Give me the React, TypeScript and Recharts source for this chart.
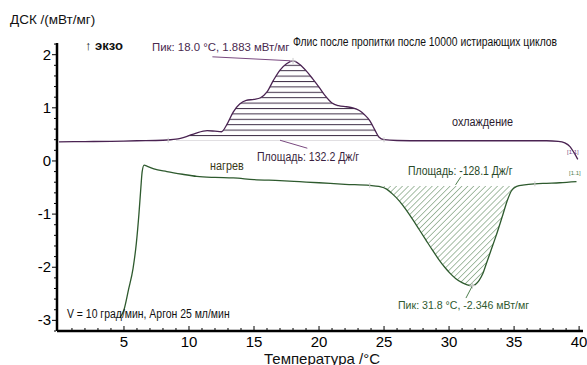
import { ComposedChart, Line, Area, XAxis, YAxis, ReferenceLine, ReferenceDot } from "recharts"

// охлаждение (экзо вверх): температура, °C / ДСК, мВт/мг
const coolT = [0, 2, 4, 6, 8, 9, 9.8, 10.5, 11.4, 12.0, 12.5, 12.9, 13.4, 13.9, 14.4, 15.0, 15.5, 16.0, 16.5, 17.0, 17.5, 18.0, 18.5, 19.0, 19.5, 20.0, 20.5, 21.0, 21.5, 22.1, 22.6, 23.1, 23.5, 23.9, 24.3, 24.6, 25.0, 26, 28, 30, 33, 36, 37.5, 38.4, 38.9, 39.3, 39.6, 39.9]
const coolV = [0.36, 0.365, 0.37, 0.38, 0.39, 0.41, 0.46, 0.52, 0.57, 0.56, 0.55, 0.68, 0.92, 1.07, 1.14, 1.16, 1.19, 1.3, 1.52, 1.71, 1.83, 1.883, 1.82, 1.7, 1.55, 1.39, 1.22, 1.09, 1.04, 1.02, 1.0, 0.95, 0.87, 0.76, 0.58, 0.45, 0.4, 0.385, 0.38, 0.38, 0.38, 0.38, 0.38, 0.37, 0.34, 0.27, 0.16, 0.03]

// нагрев
const heatT = [4.7, 5.0, 5.35, 5.7, 5.95, 6.15, 6.3, 6.4, 6.55, 6.8, 7.3, 8.3, 9.5, 10.6, 12, 13.4, 15, 17, 18.5, 20, 22, 23.9, 24.6, 25.2, 25.6, 26.2, 26.7, 27.2, 27.7, 28.2, 28.7, 29.2, 29.7, 30.1, 30.5, 31.0, 31.4, 31.8, 32.3, 32.6, 32.8, 33.2, 33.6, 34.1, 34.5, 34.8, 35.2, 35.8, 36.6, 37.5, 38.5, 39.8]
const heatV = [-2.95, -2.8, -2.42, -2.02, -1.55, -1.0, -0.5, -0.2, -0.08, -0.1, -0.15, -0.2, -0.25, -0.29, -0.31, -0.32, -0.35, -0.37, -0.39, -0.41, -0.44, -0.46, -0.48, -0.53, -0.61, -0.76, -0.92, -1.1, -1.29, -1.48, -1.67, -1.85, -2.01, -2.12, -2.21, -2.29, -2.33, -2.346, -2.25, -2.12, -1.98, -1.7, -1.42, -1.04, -0.73, -0.56, -0.48, -0.45, -0.43, -0.42, -0.41, -0.39]

// пределы интегрирования и базовые линии пиков
const coolLimits = [8.4, 25.0]
const coolBase = 0.39
const heatLimits = [24.6, 35.8]
const heatBase = -0.47

const coolPeak = { t: 18.0, v: 1.883, area: "132.2" }
const heatPeak = { t: 31.8, v: -2.346, area: "-128.1" }

const xTicks = [1, 2, 3, 4, 5, 6, 7, 8, 9, 10, 11, 12, 13, 14, 15, 16, 17, 18, 19, 20, 21, 22, 23, 24, 25, 26, 27, 28, 29, 30, 31, 32, 33, 34, 35, 36, 37, 38, 39, 40]
const yTicks = [-3.2, -3, -2.8, -2.6, -2.4, -2.2, -2, -1.8, -1.6, -1.4, -1.2, -1, -0.8, -0.6, -0.4, -0.2, 0, 0.2, 0.4, 0.6, 0.8, 1, 1.2, 1.4, 1.6, 1.8, 2, 2.2]

const cool = coolT.map((t, i) => ({ t, v: coolV[i] }))
const heat = heatT.map((t, i) => ({ t, v: heatV[i] }))
const coolFill = cool.filter((p) => p.t >= coolLimits[0] && p.t <= coolLimits[1])
const heatFill = heat.filter((p) => p.t >= heatLimits[0] && p.t <= heatLimits[1])

const PURPLE = "#4a2352"
const GREEN = "#2e5a2e"
const SANS = "'Liberation Sans', Arial, sans-serif"

const XTick = ({ x, y, payload }: any) => {
  const major = payload.value % 5 === 0
  return (
    <g>
      <line x1={x} x2={x} y1={y - 1} y2={y - (major ? 5 : 3)} stroke="#000" strokeWidth={1} />
      {major && (
        <text x={x} y={y + 16} textAnchor="middle" fontSize={15} fontFamily={SANS} fill="#000">
          {payload.value}
        </text>
      )}
    </g>
  )
}

const YTick = ({ x, y, payload }: any) => {
  const major = Math.abs(payload.value - Math.round(payload.value)) < 1e-6
  return (
    <g>
      <line x1={x - 1} x2={x - (major ? 5 : 3)} y1={y} y2={y} stroke="#000" strokeWidth={1} />
      {major && (
        <text x={x - 6} y={y + 5} textAnchor="end" fontSize={15} fontFamily={SANS} fill="#000">
          {payload.value}
        </text>
      )}
    </g>
  )
}

const Cross = ({ cx, cy, stroke }: any) => (
  <g stroke={stroke} strokeWidth={1}>
    <line x1={cx - 3} x2={cx + 3} y1={cy} y2={cy} />
    <line x1={cx} x2={cx} y1={cy - 3} y2={cy + 3} />
  </g>
)

const Notch = ({ cx, cy, stroke }: any) => (
  <line x1={cx} x2={cx} y1={cy - 2.5} y2={cy + 2.5} stroke={stroke} strokeWidth={1} />
)

// подписи: узкий шрифт имитируется сжатием по горизонтали
const Note = ({ left, cy, size = 12, color = "#111", sx = 1, bold = false, children }: any) => (
  <div
    style={{
      position: "absolute",
      left,
      top: cy,
      transform: `translateY(-50%) scaleX(${sx})`,
      transformOrigin: "left center",
      fontSize: size,
      lineHeight: 1,
      color,
      fontFamily: SANS,
      fontWeight: bold ? "bold" : "normal",
      whiteSpace: "nowrap",
    }}
  >
    {children}
  </div>
)

export default function App() {
  return (
    <div style={{ position: "relative", width: 587, height: 365, background: "#fff", overflow: "hidden" }}>
      <style>{"body{margin:0}"}</style>
      <ComposedChart width={587} height={365} margin={{ top: 43, right: 4, bottom: 0, left: 0 }}>
        <defs>
          <pattern id="hatchH" patternUnits="userSpaceOnUse" width="8" height="5.4">
            <line x1="0" y1="0.5" x2="8" y2="0.5" stroke="#3d2d45" strokeWidth="1" />
          </pattern>
          <pattern id="hatchD" patternUnits="userSpaceOnUse" width="4.2" height="4.2" patternTransform="rotate(45)">
            <line x1="0" y1="0" x2="0" y2="4.2" stroke="#4d7d4d" strokeWidth="1" />
          </pattern>
        </defs>
        <XAxis
          type="number"
          dataKey="t"
          domain={[-0.15, 40.3]}
          ticks={xTicks}
          interval={0}
          tick={<XTick />}
          tickLine={false}
          tickSize={0}
          tickMargin={0}
          height={34}
          axisLine={{ stroke: "#000", strokeWidth: 2.5 }}
          allowDataOverflow
        />
        <YAxis
          type="number"
          domain={[-3.2, 2.22]}
          ticks={yTicks}
          interval={0}
          tick={<YTick />}
          tickLine={false}
          tickSize={0}
          tickMargin={0}
          width={57}
          axisLine={{ stroke: "#000", strokeWidth: 2.5 }}
          allowDataOverflow
        />
        <Area
          data={coolFill}
          dataKey="v"
          type="monotone"
          baseValue={coolBase}
          fill="url(#hatchH)"
          fillOpacity={1}
          stroke="none"
          isAnimationActive={false}
        />
        <Area
          data={heatFill}
          dataKey="v"
          type="monotone"
          baseValue={heatBase}
          fill="url(#hatchD)"
          fillOpacity={1}
          stroke="none"
          isAnimationActive={false}
        />
        <Line data={cool} dataKey="v" type="monotone" stroke={PURPLE} strokeWidth={1.3} dot={false} isAnimationActive={false} />
        <Line data={heat} dataKey="v" type="monotone" stroke={GREEN} strokeWidth={1.3} dot={false} isAnimationActive={false} />

        {/* выноски подписей */}
        <ReferenceLine segment={[{ x: 11.8, y: 1.96 }, { x: coolPeak.t, y: coolPeak.v }]} stroke="#7a4a80" strokeWidth={1} ifOverflow="visible" />
        <ReferenceLine segment={[{ x: 17.0, y: 0.39 }, { x: 19.1, y: 0.24 }]} stroke="#7a4a80" strokeWidth={1} ifOverflow="visible" />
        <ReferenceLine segment={[{ x: 30.9, y: -0.3 }, { x: 30.5, y: -0.45 }]} stroke="#4f7f4f" strokeWidth={1} ifOverflow="visible" />
        <ReferenceLine segment={[{ x: heatPeak.t, y: heatPeak.v }, { x: 31.3, y: -2.58 }]} stroke="#4f7f4f" strokeWidth={1} ifOverflow="visible" />

        <ReferenceDot x={coolPeak.t} y={coolPeak.v} shape={<Cross stroke={PURPLE} />} />
        <ReferenceDot x={heatPeak.t} y={heatPeak.v} shape={<Cross stroke={GREEN} />} />
        <ReferenceDot x={coolLimits[0]} y={0.39} shape={<Notch stroke={PURPLE} />} />
        <ReferenceDot x={coolLimits[1]} y={0.4} shape={<Notch stroke={PURPLE} />} />
        <ReferenceDot x={23.9} y={-0.46} shape={<Notch stroke={GREEN} />} />
        <ReferenceDot x={36.6} y={-0.43} shape={<Notch stroke={GREEN} />} />
      </ComposedChart>

      <Note left={10} cy={20} size={13.5}>ДСК /(мВт/мг)</Note>
      <Note left={85} cy={45} size={13} bold>↑ экзо</Note>
      <Note left={293} cy={42} sx={0.86}>Флис после пропитки после 10000 истирающих циклов</Note>
      <Note left={152} cy={48} size={11.5} sx={0.99} color="#4a2a50">
        Пик: {coolPeak.t.toFixed(1)} °C, {coolPeak.v.toFixed(3)} мВт/мг
      </Note>
      <Note left={452} cy={122} sx={0.9} color="#2a1a2e">охлаждение</Note>
      <Note left={257} cy={157} sx={0.88} color="#3a1f40">Площадь: {coolPeak.area} Дж/г</Note>
      <Note left={210} cy={166} sx={0.9} color="#3a3a1a">нагрев</Note>
      <Note left={408} cy={171} sx={0.87} color="#2a4a2a">Площадь: {heatPeak.area} Дж/г</Note>
      <Note left={398} cy={306} size={11.5} sx={0.92} color="#2f5a2f">
        Пик: {heatPeak.t.toFixed(1)} °C, {heatPeak.v.toFixed(3)} мВт/мг
      </Note>
      <Note left={67} cy={314} sx={0.87}>V = 10 град/мин, Аргон 25 мл/мин</Note>
      <Note left={264} cy={358} size={15}>Температура /°C</Note>
      <Note left={567} cy={152} size={6} color="#7a4a80">[1.1]</Note>
      <Note left={569} cy={173} size={6} color="#4f7f4f">[1.1]</Note>
    </div>
  )
}
